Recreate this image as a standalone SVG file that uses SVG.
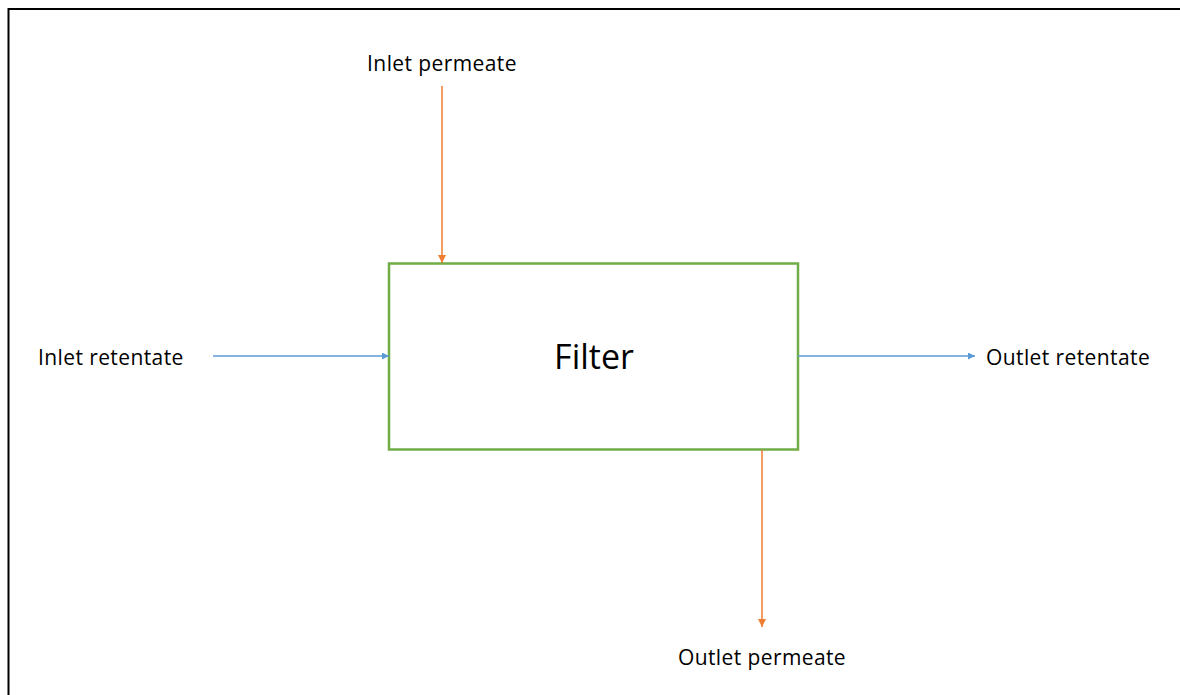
<svg xmlns="http://www.w3.org/2000/svg" width="1180" height="695" viewBox="0 0 1180 695">
<style>
.lbl{font-family:"Open Sans","Liberation Sans",sans-serif;font-size:21px;letter-spacing:0.4px;fill:#000}
.title{font-family:"Open Sans","Liberation Sans",sans-serif;font-size:34px;fill:#000}
.blue{stroke:#5B9BD5;stroke-width:1.5;fill:none}
.orange{stroke:#ED7D31;stroke-width:1.5;fill:none}
</style>
<defs>
<marker id="ab" viewBox="0 0 10 10" refX="10" refY="5" markerWidth="7" markerHeight="7" markerUnits="userSpaceOnUse" orient="auto"><path d="M0,0 L10,5 L0,10 z" fill="#5B9BD5"/></marker>
<marker id="ao" viewBox="0 0 10 10" refX="10" refY="5" markerWidth="8" markerHeight="8" markerUnits="userSpaceOnUse" orient="auto"><path d="M0,0 L10,5 L0,10 z" fill="#ED7D31"/></marker>
</defs>
<rect width="1180" height="695" fill="#fff"/>
<path d="M8.5,695 V9 H1180" stroke="#000" stroke-width="2" fill="none"/>
<g id="filter">
<rect x="389" y="263.5" width="409" height="186" fill="#fff" stroke="#70AD47" stroke-width="2.5"/>
<text class="title" x="594" y="369" text-anchor="middle">Filter</text>
</g>
<g id="inlet-retentate"><text class="lbl" x="38" y="365">Inlet retentate</text></g>
<g id="outlet-retentate"><text class="lbl" x="986" y="365">Outlet retentate</text></g>
<g id="inlet-permeate"><text class="lbl" x="442" y="71" text-anchor="middle">Inlet permeate</text></g>
<g id="outlet-permeate"><text class="lbl" x="762" y="665" text-anchor="middle">Outlet permeate</text></g>
<g id="connectors">
<line class="blue" x1="213" y1="356" x2="389" y2="356" marker-end="url(#ab)"/>
<line class="blue" x1="798" y1="356" x2="975" y2="356" marker-end="url(#ab)"/>
<line class="orange" x1="442" y1="86" x2="442" y2="263" marker-end="url(#ao)"/>
<line class="orange" x1="762" y1="450" x2="762" y2="627" marker-end="url(#ao)"/>
</g>
</svg>
